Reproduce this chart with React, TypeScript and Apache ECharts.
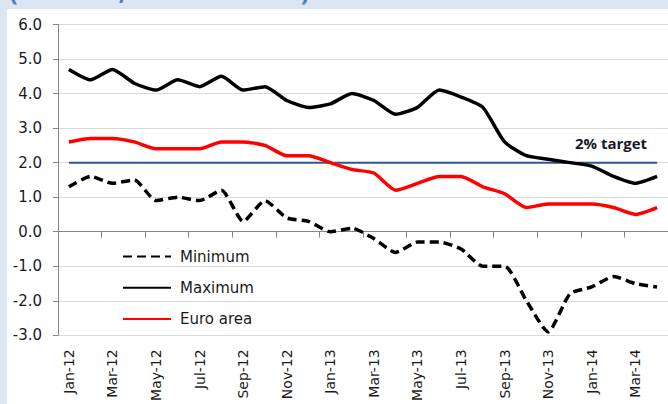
import React, { useEffect, useRef } from "react";
import * as echarts from "echarts";

const categories = [
  "Jan-12", "Feb-12", "Mar-12", "Apr-12", "May-12", "Jun-12", "Jul-12", "Aug-12", "Sep-12", "Oct-12", "Nov-12", "Dec-12",
  "Jan-13", "Feb-13", "Mar-13", "Apr-13", "May-13", "Jun-13", "Jul-13", "Aug-13", "Sep-13", "Oct-13", "Nov-13", "Dec-13",
  "Jan-14", "Feb-14", "Mar-14", "Apr-14",
];

const minimum = [
  1.3, 1.6, 1.4, 1.5, 0.9, 1.0, 0.9, 1.2, 0.3, 0.9, 0.4, 0.3,
  0.0, 0.1, -0.2, -0.6, -0.3, -0.3, -0.5, -1.0, -1.0, -2.0, -2.9, -1.8,
  -1.6, -1.3, -1.5, -1.6,
];

const maximum = [
  4.7, 4.4, 4.7, 4.3, 4.1, 4.4, 4.2, 4.5, 4.1, 4.2, 3.8, 3.6,
  3.7, 4.0, 3.8, 3.4, 3.6, 4.1, 3.9, 3.6, 2.6, 2.2, 2.1, 2.0,
  1.9, 1.6, 1.4, 1.6,
];

const euroArea = [
  2.6, 2.7, 2.7, 2.6, 2.4, 2.4, 2.4, 2.6, 2.6, 2.5, 2.2, 2.2,
  2.0, 1.8, 1.7, 1.2, 1.4, 1.6, 1.6, 1.3, 1.1, 0.7, 0.8, 0.8,
  0.8, 0.7, 0.5, 0.7,
];

const targetValue = 2.0;
const target = categories.map(() => targetValue);

const titleText = "(Percent, Year-on-Year)";
const targetLabel = "2% target";

export default function App() {
  const ref = useRef<HTMLDivElement>(null);

  useEffect(() => {
    if (!ref.current) return;
    const chart = echarts.init(ref.current, undefined, { renderer: "svg" });
    const axisFont = "DejaVu Sans, Verdana, sans-serif";
    chart.setOption({
      animation: false,
      backgroundColor: "#DCE6F2",
      graphic: [
        {
          type: "rect",
          z: -10,
          shape: { x: 7, y: 9, width: 700, height: 420 },
          style: { fill: "#FFFFFF" },
        },
        {
          type: "text",
          x: 9,
          y: 3,
          style: {
            text: titleText,
            font: "bold 26px 'Open Sans', sans-serif",
            fill: "#4F81BD",
            textVerticalAlign: "bottom",
          },
        },
        {
          type: "text",
          x: 611,
          y: 143,
          z: 10,
          style: {
            text: targetLabel,
            font: "bold 15px 'Open Sans', sans-serif",
            fill: "#1A1A2A",
            textAlign: "center",
            textVerticalAlign: "middle",
          },
        },
      ],
      grid: { left: 58, top: 24.5, width: 612, height: 310.8, containLabel: false },
      legend: {
        data: ["Minimum", "Maximum", "Euro area"],
        orient: "vertical",
        left: 122,
        top: 249,
        padding: 0,
        itemWidth: 48,
        itemHeight: 16,
        itemGap: 16.3,
        itemStyle: { opacity: 0 },
        textStyle: {
          fontFamily: axisFont,
          fontSize: 15,
          color: "#1A1A1A",
          padding: [0, 0, 0, 4],
        },
      },
      xAxis: [
        {
          type: "category",
          data: categories,
          position: "bottom",
          boundaryGap: true,
          axisLine: { onZero: true, lineStyle: { color: "#868686", width: 1 } },
          axisTick: { show: true, interval: 1, length: 6, inside: false, lineStyle: { color: "#868686" } },
          axisLabel: { show: false },
          splitLine: { show: false },
        },
        {
          type: "category",
          data: categories,
          position: "bottom",
          boundaryGap: true,
          axisLine: { show: false, onZero: false },
          axisTick: { show: false },
          axisLabel: {
            interval: 1,
            rotate: 90,
            margin: 14,
            fontFamily: axisFont,
            fontSize: 14,
            color: "#1A1A1A",
          },
          splitLine: { show: false },
        },
      ],
      yAxis: {
        type: "value",
        min: -3,
        max: 6,
        interval: 1,
        axisLine: { show: true, lineStyle: { color: "#868686", width: 1 } },
        axisTick: { show: true, length: 5, lineStyle: { color: "#868686" } },
        axisLabel: {
          margin: 16,
          fontFamily: axisFont,
          fontSize: 15,
          color: "#1A1A1A",
          formatter: (v: number) => v.toFixed(1),
        },
        splitLine: { show: true, lineStyle: { color: "#D9D9D9", width: 1 } },
      },
      series: [
        {
          name: "2% target",
          type: "line",
          data: target,
          symbol: "none",
          lineStyle: { color: "#2B5797", width: 2 },
          z: 3,
          silent: true,
        },
        {
          name: "Minimum",
          type: "line",
          data: minimum,
          symbol: "none",
          smooth: 0.2,
          itemStyle: { color: "#000000" },
          lineStyle: { color: "#000000", width: 3.5, type: [9, 5] },
          z: 4,
        },
        {
          name: "Maximum",
          type: "line",
          data: maximum,
          symbol: "none",
          smooth: 0.2,
          itemStyle: { color: "#000000" },
          lineStyle: { color: "#000000", width: 3.5 },
          z: 4,
        },
        {
          name: "Euro area",
          type: "line",
          data: euroArea,
          symbol: "none",
          smooth: 0.2,
          itemStyle: { color: "#FF0000" },
          lineStyle: { color: "#FF0000", width: 3.5 },
          z: 4,
        },
      ],
    });
    return () => chart.dispose();
  }, []);

  return (
    <div
      ref={ref}
      style={{ position: "fixed", left: 0, top: 0, width: 668, height: 404 }}
    />
  );
}
